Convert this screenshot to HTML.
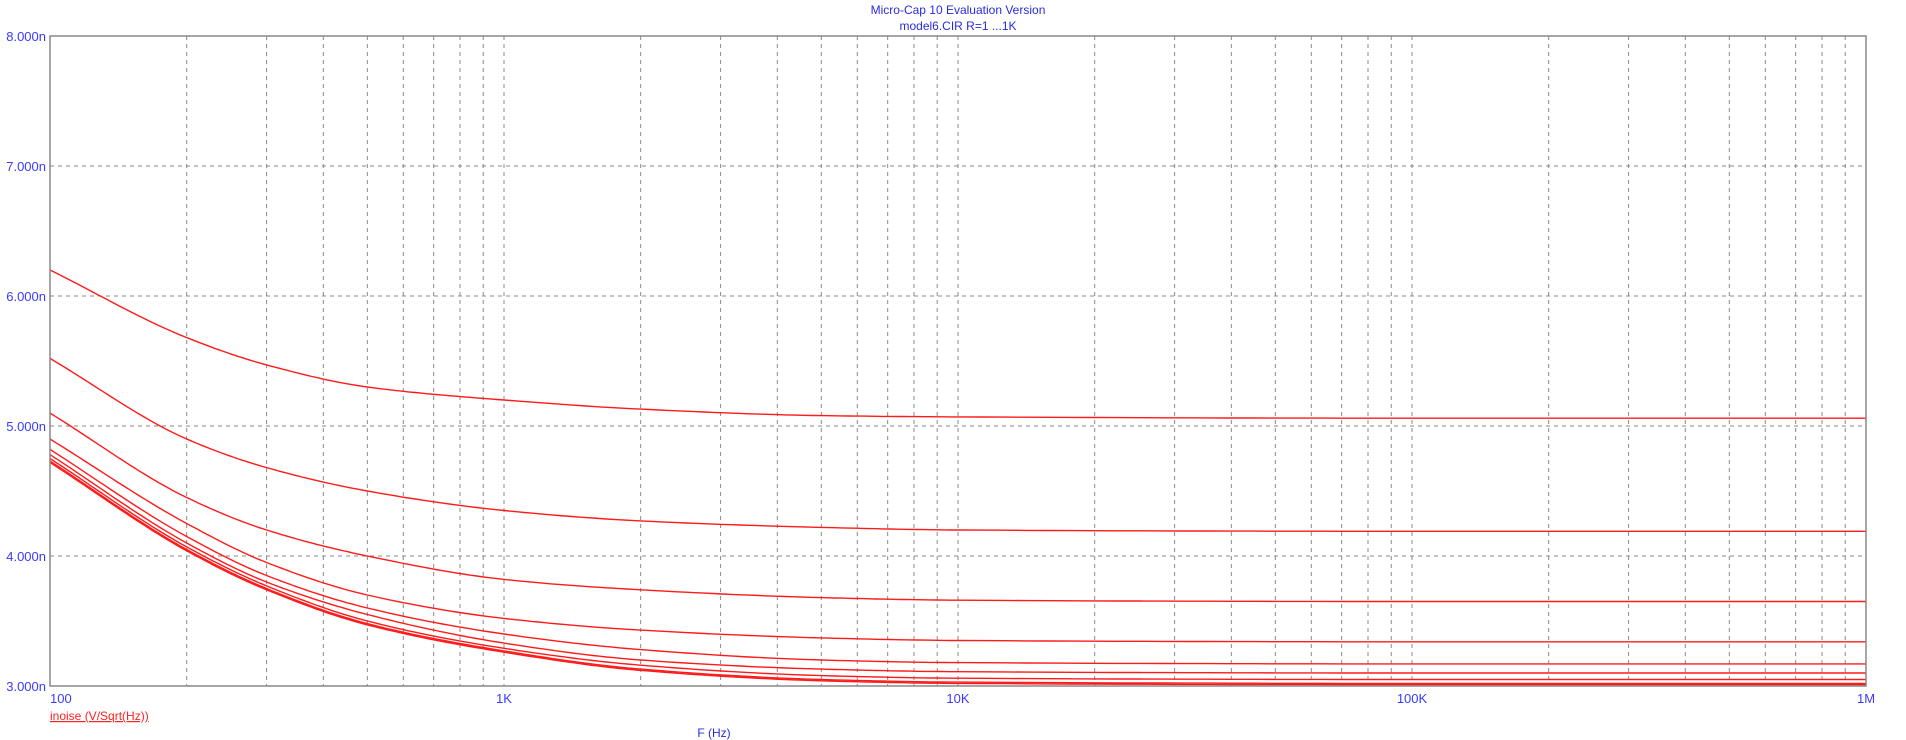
<!DOCTYPE html>
<html><head><meta charset="utf-8"><style>
html,body{margin:0;padding:0;background:#fff;width:1906px;height:740px;overflow:hidden}
svg text{font-family:"Liberation Sans",Arial,sans-serif}
</style></head><body>
<svg id="chart" width="1906" height="740" xmlns="http://www.w3.org/2000/svg">
<text x="958" y="14" text-anchor="middle" font-size="12" fill="#2a2ae0">Micro-Cap 10 Evaluation Version</text>
<text x="958" y="30" text-anchor="middle" font-size="12" fill="#2a2ae0">model6.CIR R=1 ...1K</text>
<g id="grid"></g>
<g id="series"></g>
<rect x="50" y="36" width="1816" height="650" fill="none" stroke="#888" stroke-width="1.5"/>
<g id="labels"></g>
<text x="50" y="720" font-size="12" fill="#ff2020" text-decoration="underline">inoise (V/Sqrt(Hz))</text>
<text x="714" y="737" text-anchor="middle" font-size="12" fill="#2a2ae0">F (Hz)</text>
</svg>
<script>
const freqs=[100,200,300,500,1e3,2e3,5e3,1e4,1e5,1e6];
const s1=[6.2,5.68,5.47,5.3,5.2,5.13,5.08,5.07,5.06,5.06];
const s2=[5.52,4.9,4.68,4.5,4.35,4.27,4.22,4.2,4.19,4.19];
const s3=[5.1,4.45,4.2,4.0,3.82,3.74,3.68,3.66,3.65,3.65];
const s4=[4.9,4.25,3.95,3.7,3.52,3.43,3.37,3.35,3.34,3.34];
const s5=[4.82,4.15,3.85,3.6,3.4,3.28,3.2,3.18,3.17,3.17];
const s6=[4.78,4.1,3.8,3.55,3.33,3.2,3.13,3.11,3.1,3.1];
const s7=[4.75,4.07,3.77,3.5,3.29,3.16,3.08,3.06,3.05,3.05];
const s8=[4.73,4.05,3.75,3.48,3.27,3.13,3.05,3.03,3.02,3.02];
const s9=[4.72,4.04,3.74,3.47,3.26,3.12,3.04,3.02,3.01,3.01];
const seriesList=[s1,s2,s3,s4,s5,s6,s7,s8,s9];
const yTicks=[3,4,5,6,7,8];
const yTickLabels=["3.000n","4.000n","5.000n","6.000n","7.000n","8.000n"];
const xTicks=[100,1e3,1e4,1e5,1e6];
const xTickLabels=["100","1K","10K","100K","1M"];
const NS="http://www.w3.org/2000/svg";
const L=50,R=1866,T=36,B=686;
const xs=f=>L+(Math.log10(f)-2)/4*(R-L);
const ys=v=>B-(v-3)/5*(B-T);
function mk(tag,at,parent){const e=document.createElementNS(NS,tag);for(const k in at)e.setAttribute(k,at[k]);document.getElementById(parent).appendChild(e);return e;}
for(let d=2;d<6;d++){for(let m=2;m<=9;m++){const x=xs(m*Math.pow(10,d));
const g=mk('line',{x1:x,x2:x,y1:T,y2:B,stroke:'#888','stroke-dasharray':'4,4'},'grid');

}
if(d>2){const x=xs(Math.pow(10,d));const g=mk('line',{x1:x,x2:x,y1:T,y2:B,stroke:'#888','stroke-dasharray':'4,4'},'grid');

}}
yTicks.forEach((v,i)=>{if(v>3&&v<8){const g=mk('line',{x1:L,x2:R,y1:ys(v),y2:ys(v),stroke:'#888','stroke-dasharray':'4,4'},'grid');

}
const t=mk('text',{x:46,y:ys(v)+5,'text-anchor':'end','font-size':'13',fill:'#3a3aff'},'labels');t.textContent=yTickLabels[i];

});
xTicks.forEach((f,i)=>{const x=xs(f);const t=mk('text',{x:x,y:703,'text-anchor':i==0?'start':'middle','font-size':'13',fill:'#3a3aff'},'labels');t.textContent=xTickLabels[i];

});
function monotone(px,py){const n=px.length,dl=[],m=new Array(n);
for(let i=0;i<n-1;i++)dl.push((py[i+1]-py[i])/(px[i+1]-px[i]));
m[0]=dl[0];m[n-1]=dl[n-2];
for(let i=1;i<n-1;i++){if(dl[i-1]*dl[i]<=0)m[i]=0;else{const h0=px[i]-px[i-1],h1=px[i+1]-px[i];const w1=2*h1+h0,w2=h1+2*h0;m[i]=(w1+w2)/(w1/dl[i-1]+w2/dl[i]);}}
const out=[];
for(let i=0;i<n-1;i++){const h=px[i+1]-px[i];for(let k=0;k<20;k++){const t=k/20,t2=t*t,t3=t2*t;
const y=(2*t3-3*t2+1)*py[i]+(t3-2*t2+t)*h*m[i]+(-2*t3+3*t2)*py[i+1]+(t3-t2)*h*m[i+1];out.push([px[i]+t*h,y]);}}
out.push([px[n-1],py[n-1]]);return out;}
seriesList.forEach((s,si)=>{const px=freqs.map(xs),py=s.map(ys);
const pts=monotone(px,py);
const p=mk('polyline',{points:pts.map(p=>p[0].toFixed(1)+','+p[1].toFixed(1)).join(' '),fill:'none',stroke:'#ff1a1a','stroke-width':'1.4'},'series');

});
</script>
</body></html>
